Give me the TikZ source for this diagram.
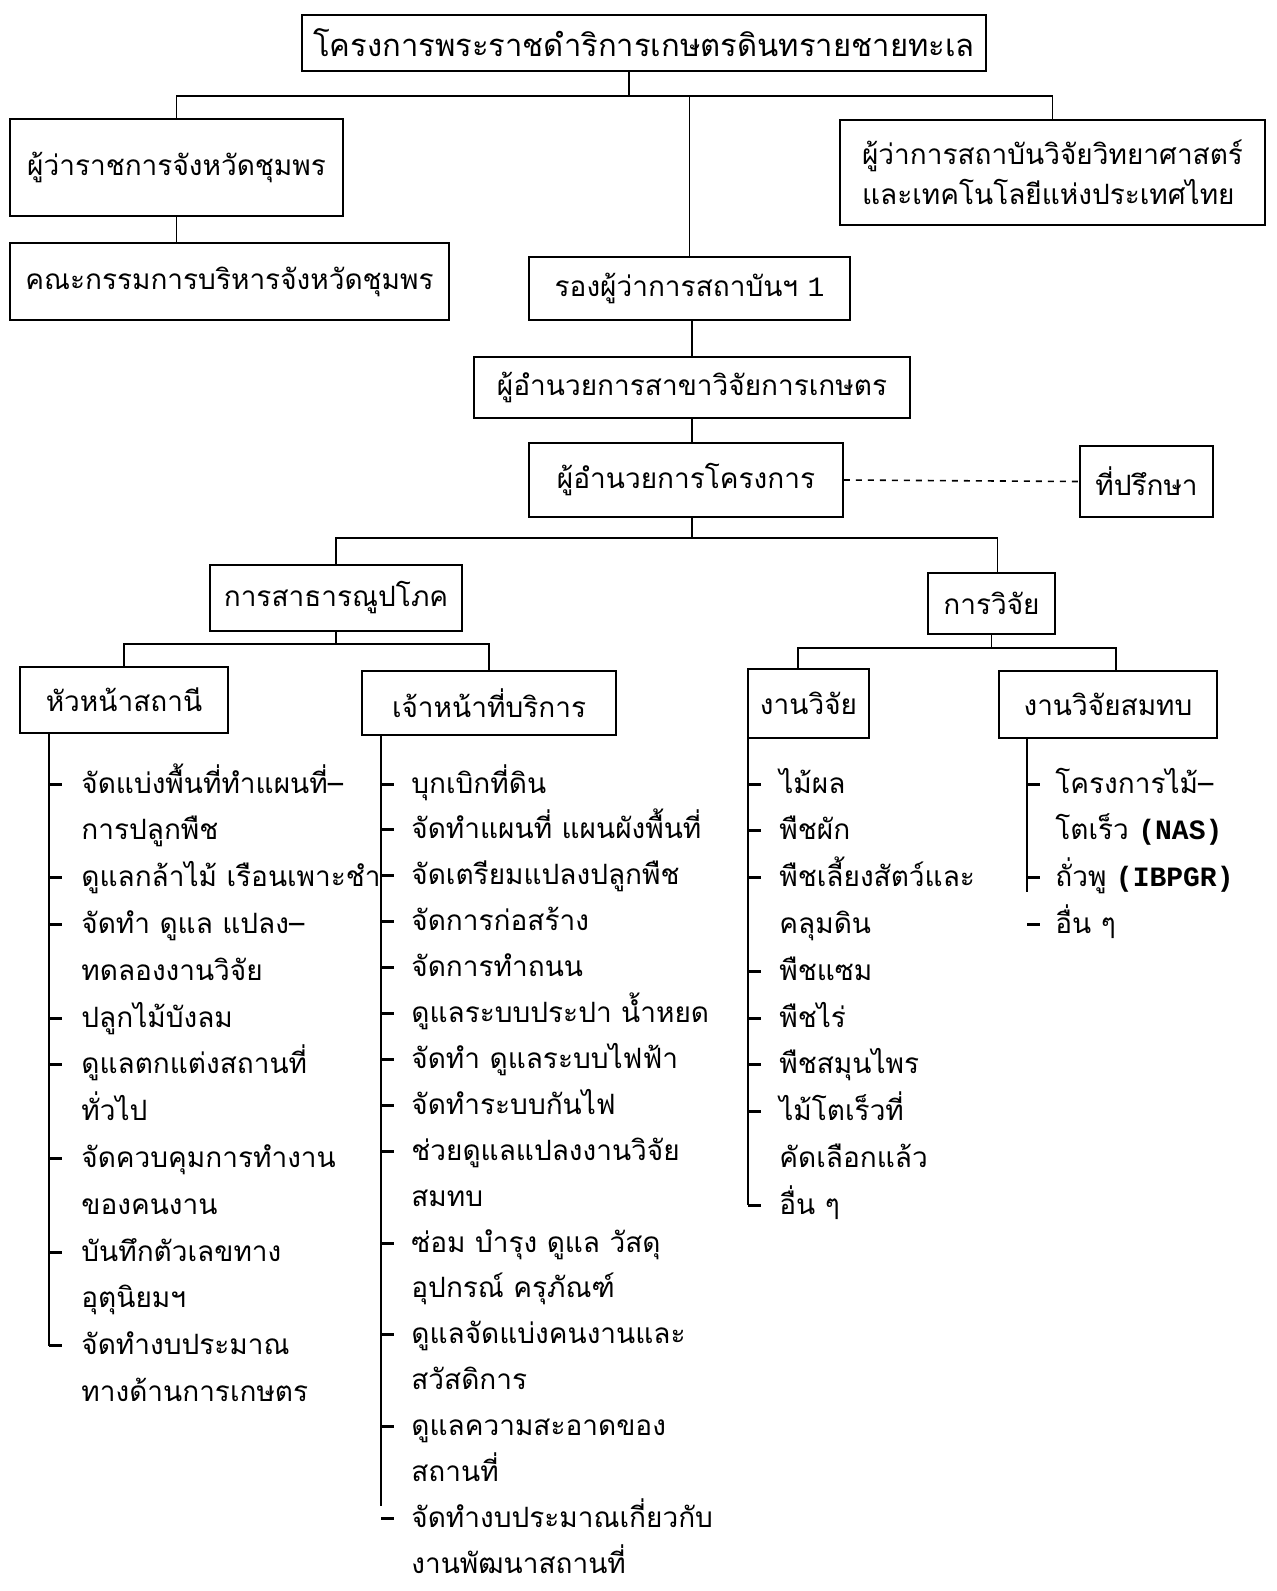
\documentclass[tikz,border=0pt]{standalone}
\usepackage{fontspec}
\newfontfamily\thai[Script=Thai]{Loma}
\newfontfamily\mono{Liberation Mono}
\tikzset{
  box/.style={draw, line width=0.8pt, inner sep=2pt, align=center,
    font=\thai\fontsize{14}{20}\selectfont},
  conn/.style={line width=0.8pt},
  tick/.style={line width=1.5pt},
  item/.style={anchor=base west, inner sep=0pt, font=\thai\fontsize{14}{17}\selectfont}
}
\newcommand\ditem[5]{% name, xv, xt, index, text
  \draw[tick] ({#2},{\ybase+\ystep*#4}) -- ++(13,0);
  \node[item] (#1) at ({#3},{\ybase+\ystep*#4+9}) {#5};}
\newcommand\citem[4]{% name, xt, index, text
  \node[item] (#1) at ({#2},{\ybase+\ystep*#3+9}) {#4};}
\begin{document}
\begin{tikzpicture}[x=0.5pt,y=-0.5pt]
\useasboundingbox (0,0) rectangle (1277,1591);
\fill[white] (0,0) rectangle (1277,1591);

% boxes
\node[box, minimum width=342pt, minimum height=28pt, font=\thai\fontsize{15.5}{20}\selectfont] (top) at (644,43) {โครงการพระราชดำริการเกษตรดินทรายชายทะเล};
\node[box, minimum width=166.5pt, minimum height=48.5pt] (gov) at (176.5,167.5) {ผู้ว่าราชการจังหวัดชุมพร};
\node[box, minimum width=219.5pt, minimum height=38.5pt] (com) at (229.5,281.5) {คณะกรรมการบริหารจังหวัดชุมพร};
\node[box, minimum width=212.5pt, minimum height=52.5pt, align=left] (tistr) at (1052.5,172.5) {ผู้ว่าการสถาบันวิจัยวิทยาศาสตร์\\และเทคโนโลยีแห่งประเทศไทย};
\node[box, minimum width=160.5pt, minimum height=31.5pt] (vp) at (689.5,288.5) {รองผู้ว่าการสถาบันฯ {\mono 1}};
\node[box, minimum width=218pt, minimum height=30.5pt] (dir1) at (692,387.5) {ผู้อำนวยการสาขาวิจัยการเกษตร};
\node[box, minimum width=157pt, minimum height=37pt] (dir2) at (686,480) {ผู้อำนวยการโครงการ};
\node[box, minimum width=66.5pt, minimum height=35.5pt] (adv) at (1146.5,481.5) {ที่ปรึกษา};
\node[box, minimum width=126pt, minimum height=33pt] (pub) at (336,598) {การสาธารณูปโภค};
\node[box, minimum width=63.5pt, minimum height=30.5pt] (res) at (991.5,603.5) {การวิจัย};
\node[box, minimum width=104pt, minimum height=33pt] (head) at (124,700) {หัวหน้าสถานี};
\node[box, minimum width=127pt, minimum height=32pt] (staff) at (489,703) {เจ้าหน้าที่บริการ};
\node[box, minimum width=60.5pt, minimum height=34.5pt] (rw) at (808.5,703.5) {งานวิจัย};
\node[box, minimum width=109pt, minimum height=33.5pt] (rwj) at (1108,704.5) {งานวิจัยสมทบ};

% connectors
\coordinate (b1) at (629,96);
\draw[conn] ([xshift=-7.5pt]top.south) -- (b1);
\draw[conn] (gov.north) |- (b1) -| (tistr.north);
\draw[conn] (vp.north) -- (vp.north |- b1);
\draw[conn] (gov.south) -- (gov.south |- com.north);
\draw[conn] (dir1.north) -- (dir1.north |- vp.south);
\draw[conn] (dir1.south) -- (dir1.south |- dir2.north);
\draw[conn, dashed] (dir2.east) -- (adv.west);
\coordinate (b2) at (692,538);
\draw[conn] (dir1.south |- dir2.south) -- (b2);
\draw[conn] (pub.north) |- (b2) -| ([xshift=3pt]res.north);
\coordinate (b3) at (336,644);
\draw[conn] (pub.south) -- (b3);
\draw[conn] (head.north) |- (b3) -| (staff.north);
\coordinate (b4) at (991.5,648);
\draw[conn] (res.south) -- (b4);
\draw[conn] ([xshift=-5.25pt]rw.north) |- (b4) -| ([xshift=4pt]rwj.north);

% left list
\def\ybase{784}\def\ystep{46.8}
\draw[conn] (head.south -| 49,0) -- (49,{784+46.8*12});
\ditem{h0}{49}{81}{0}{จัดแบ่งพื้นที่ทำแผนที่–}
\citem{h1}{81}{1}{การปลูกพืช}
\ditem{h2}{49}{81}{2}{ดูแลกล้าไม้ เรือนเพาะชำ}
\ditem{h3}{49}{81}{3}{จัดทำ ดูแล แปลง–}
\citem{h4}{81}{4}{ทดลองงานวิจัย}
\ditem{h5}{49}{81}{5}{ปลูกไม้บังลม}
\ditem{h6}{49}{81}{6}{ดูแลตกแต่งสถานที่}
\citem{h7}{81}{7}{ทั่วไป}
\ditem{h8}{49}{81}{8}{จัดควบคุมการทำงาน}
\citem{h9}{81}{9}{ของคนงาน}
\ditem{h10}{49}{81}{10}{บันทึกตัวเลขทาง}
\citem{h11}{81}{11}{อุตุนิยมฯ}
\ditem{h12}{49}{81}{12}{จัดทำงบประมาณ}
\citem{h13}{81}{13}{ทางด้านการเกษตร}

% middle list
\def\ybase{784}\def\ystep{45.9}
\draw[conn] (staff.south -| 381,0) -- (381,{784+45.9*16-12});
\ditem{s0}{381}{411}{0}{บุกเบิกที่ดิน}
\ditem{s1}{381}{411}{1}{จัดทำแผนที่ แผนผังพื้นที่}
\ditem{s2}{381}{411}{2}{จัดเตรียมแปลงปลูกพืช}
\ditem{s3}{381}{411}{3}{จัดการก่อสร้าง}
\ditem{s4}{381}{411}{4}{จัดการทำถนน}
\ditem{s5}{381}{411}{5}{ดูแลระบบประปา น้ำหยด}
\ditem{s6}{381}{411}{6}{จัดทำ ดูแลระบบไฟฟ้า}
\ditem{s7}{381}{411}{7}{จัดทำระบบกันไฟ}
\ditem{s8}{381}{411}{8}{ช่วยดูแลแปลงงานวิจัย}
\citem{s9}{411}{9}{สมทบ}
\ditem{s10}{381}{411}{10}{ซ่อม บำรุง ดูแล วัสดุ}
\citem{s11}{411}{11}{อุปกรณ์ ครุภัณฑ์}
\ditem{s12}{381}{411}{12}{ดูแลจัดแบ่งคนงานและ}
\citem{s13}{411}{13}{สวัสดิการ}
\ditem{s14}{381}{411}{14}{ดูแลความสะอาดของ}
\citem{s15}{411}{15}{สถานที่}
\ditem{s16}{381}{411}{16}{จัดทำงบประมาณเกี่ยวกับ}
\citem{s17}{411}{17}{งานพัฒนาสถานที่}

% research list
\def\ybase{784}\def\ystep{46.8}
\draw[conn] (rw.south -| 748,0) -- (748,{784+46.8*9});
\ditem{r0}{748}{779}{0}{ไม้ผล}
\ditem{r1}{748}{779}{1}{พืชผัก}
\ditem{r2}{748}{779}{2}{พืชเลี้ยงสัตว์และ}
\citem{r3}{779}{3}{คลุมดิน}
\ditem{r4}{748}{779}{4}{พืชแซม}
\ditem{r5}{748}{779}{5}{พืชไร่}
\ditem{r6}{748}{779}{6}{พืชสมุนไพร}
\ditem{r7}{748}{779}{7}{ไม้โตเร็วที่}
\citem{r8}{779}{8}{คัดเลือกแล้ว}
\ditem{r9}{748}{779}{9}{อื่น ๆ}

% joint research list
\draw[conn] (rwj.south -| 1027,0) -- (1027,{784+46.8*2+14});
\ditem{j0}{1027}{1055}{0}{โครงการไม้–}
\citem{j1}{1055}{1}{โตเร็ว {\mono\bfseries (NAS)}}
\ditem{j2}{1027}{1055}{2}{ถั่วพู {\mono\bfseries (IBPGR)}}
\ditem{j3}{1027}{1055}{3}{อื่น ๆ}
\end{tikzpicture}
\end{document}
